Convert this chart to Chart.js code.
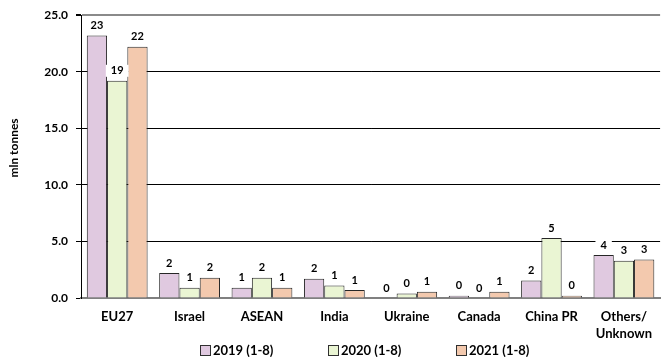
<!DOCTYPE html>
<html>
<head>
<meta charset="utf-8">
<script src="https://cdn.jsdelivr.net/npm/chart.js@4/dist/chart.umd.min.js"></script>
<style>
  html, body { margin: 0; padding: 0; background: #fff; }
  #wrap { width: 662px; height: 357px; }
</style>
</head>
<body>
<div id="wrap"><canvas id="c" width="662" height="357"></canvas></div>
<script>
// Export destinations, million tonnes, January–August of each year
const categories = ['EU27', 'Israel', 'ASEAN', 'India', 'Ukraine', 'Canada', 'China PR', ['Others/', 'Unknown']];
const seriesNames = ['2019 (1-8)', '2020 (1-8)', '2021 (1-8)'];
const values2019 = [23.2, 2.2, 0.9, 1.7, 0.0, 0.2, 1.55, 3.8];
const values2020 = [19.2, 0.9, 1.8, 1.1, 0.4, 0.0, 5.3, 3.3];
const values2021 = [22.2, 1.8, 0.9, 0.7, 0.55, 0.55, 0.2, 3.4];
const yTicks = [0, 5, 10, 15, 20, 25];
const yTitle = 'mln tonnes';

const fills = ['#E0C9E0', '#EAF5D3', '#F3C9AE'];
const FONT = 'Lato, "Open Sans", "Liberation Sans", sans-serif';

// Value labels above each bar on a white backing
const valueLabels = {
  id: 'valueLabels',
  afterDatasetsDraw(chart) {
    const ctx = chart.ctx;
    ctx.save();
    ctx.font = 'bold 11px ' + FONT;
    ctx.textAlign = 'center';
    ctx.textBaseline = 'middle';
    chart.data.datasets.forEach((ds, di) => {
      const meta = chart.getDatasetMeta(di);
      meta.data.forEach((bar, i) => {
        const txt = ds.data[i].toFixed(0);
        const w = ctx.measureText(txt).width;
        const cy = bar.y - 10;
        ctx.fillStyle = '#fff';
        ctx.fillRect(bar.x - w / 2 - 5, cy - 6, w + 10, 12);
        ctx.fillStyle = '#000';
        ctx.fillText(txt, bar.x, cy);
      });
    });
    ctx.restore();
  }
};

// Legend row under the axis, plus the rotated y-axis title
const extras = {
  id: 'extras',
  afterDraw(chart) {
    const ctx = chart.ctx;
    const starts = [200, 328, 456];
    ctx.save();
    ctx.font = 'bold 13px ' + FONT;
    ctx.textBaseline = 'middle';
    ctx.textAlign = 'left';
    chart.data.datasets.forEach((ds, di) => {
      const x = starts[di], y = 351;
      ctx.fillStyle = ds.backgroundColor;
      ctx.fillRect(x + 0.5, y - 5.5, 10, 10);
      ctx.strokeStyle = '#303030';
      ctx.lineWidth = 1;
      ctx.strokeRect(x + 0.5, y - 5.5, 10, 10);
      ctx.fillStyle = '#000';
      ctx.fillText(ds.label, x + 13, y);
    });
    ctx.translate(14, 148);
    ctx.rotate(-Math.PI / 2);
    ctx.textAlign = 'center';
    ctx.font = 'bold 12px ' + FONT;
    ctx.fillText(yTitle, 0, 0);
    ctx.restore();
  }
};

const seriesValues = [values2019, values2020, values2021];
new Chart(document.getElementById('c'), {
  type: 'bar',
  data: {
    labels: categories,
    datasets: seriesNames.map((name, k) => ({
      label: name,
      data: seriesValues[k],
      backgroundColor: fills[k],
      borderColor: '#262626',
      borderWidth: 1,
      borderSkipped: 'bottom',
      categoryPercentage: 0.84,
      barPercentage: 1.0
    }))
  },
  options: {
    responsive: false,
    animation: false,
    devicePixelRatio: 1,
    layout: { padding: { top: 15, right: 0, bottom: 15, left: 0 } },
    plugins: { legend: { display: false }, tooltip: { enabled: false } },
    scales: {
      x: {
        grid: { display: false, drawTicks: false },
        border: { display: true, color: '#808080', width: 2 },
        ticks: { color: '#000', font: { family: FONT, size: 13, weight: 'bold', lineHeight: 1.3 }, padding: 10, maxRotation: 0, autoSkip: false },
        afterFit(s) { s.height = 44; }
      },
      y: {
        min: 0, max: 25,
        afterBuildTicks(s) { s.ticks = yTicks.map(v => ({ value: v })); },
        grid: {
          color: c => c.tick && c.tick.value === 25 ? '#8a8a8a' : (c.tick && c.tick.value === 0 ? 'rgba(0,0,0,0)' : '#000'),
          tickColor: '#000',
          tickLength: 5,
          lineWidth: c => c.tick && c.tick.value === 25 ? 2 : 1
        },
        border: { display: true, color: '#000', width: 1 },
        ticks: {
          color: '#000', padding: 8,
          font: { family: FONT, size: 12, weight: 'bold' },
          callback: v => Number(v).toFixed(1)
        },
        afterFit(s) { s.width = 81; }
      }
    }
  },
  plugins: [valueLabels, extras]
});
</script>
</body>
</html>
